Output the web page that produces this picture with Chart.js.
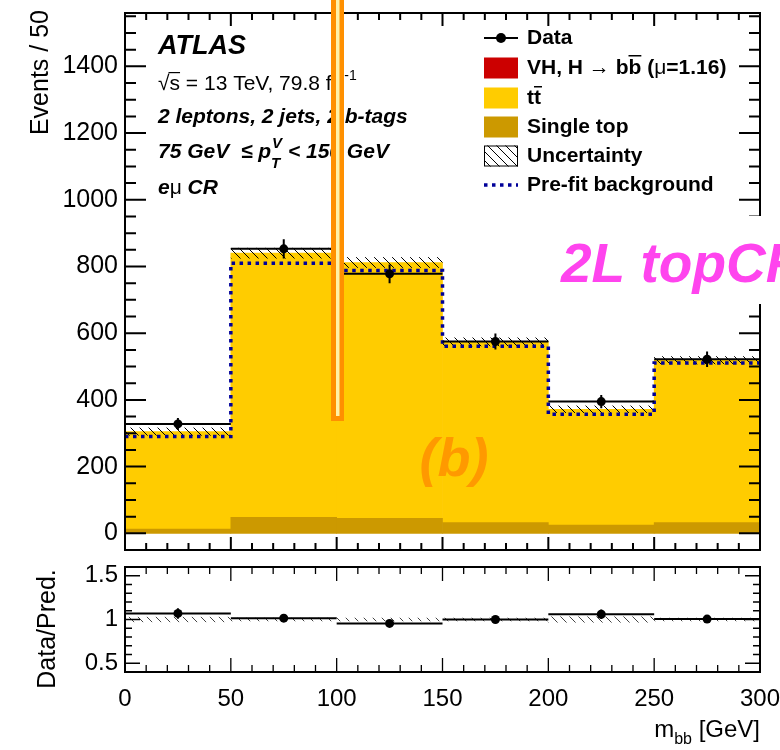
<!DOCTYPE html>
<html lang="en">
<head>
  <meta charset="UTF-8" />
  <title>m_bb - 2L topCR</title>
  <style>
    body { margin: 0; background: #fff; }
    #wrap { position: relative; width: 780px; height: 750px; }
    canvas { position: absolute; left: 0; }
    #mainChart { top: 0; }
    #ratioChart { top: 560px; }
  </style>
</head>
<body>
  <div id="wrap">
    <canvas id="mainChart" width="780" height="560"></canvas>
    <canvas id="ratioChart" width="780" height="190"></canvas>
  </div>

  <script src="https://cdn.jsdelivr.net/npm/chart.js@4"></script>
  <script>
    const FONT = '"Liberation Sans", Arial, Helvetica, sans-serif';

    // bins in m_bb [GeV]
    const binEdges = [0, 50, 100, 150, 200, 250, 300];
    const binCenters = [25, 75, 125, 175, 225, 275];

    // main panel (events / 50 GeV)
    const dataEvents = [328, 853, 778, 575, 395, 522];
    const dataErr = [18, 29, 28, 24, 20, 23];
    const singleTop = [13, 48, 45, 32, 25, 32];
    const ttbar = [292, 792, 767, 542, 347, 487];
    const bkgUnc = [12, 16, 16, 13, 11, 12];
    const preFit = [290, 810, 788, 561, 357, 511];

    // ratio panel
    const ratioData = [1.07, 1.015, 0.955, 1.0, 1.06, 1.005];
    const ratioErr = [0.06, 0.035, 0.035, 0.04, 0.055, 0.045];
    const ratioUnc = [0.03, 0.02, 0.02, 0.02, 0.035, 0.02];

    // axis ticks
    const xTicks = [0, 50, 100, 150, 200, 250, 300];
    const mainYTicks = [0, 200, 400, 600, 800, 1000, 1200, 1400];
    const ratioYTicks = [0.5, 1, 1.5];

    function f(style, size) { return style + ' ' + size + 'px ' + FONT; }

    function txt(ctx, s, x, y, font, color) {
      ctx.font = font;
      ctx.fillStyle = color || '#000';
      ctx.fillText(s, x, y);
      return x + ctx.measureText(s).width;
    }

    function hatch(ctx, color) {
      const c = document.createElement('canvas');
      c.width = c.height = 9;
      const g = c.getContext('2d');
      g.strokeStyle = color;
      g.lineWidth = 1;
      g.beginPath();
      g.moveTo(-1, -1); g.lineTo(10, 10);
      g.moveTo(-1, 8); g.lineTo(1, 10);
      g.moveTo(8, -1); g.lineTo(10, 1);
      g.stroke();
      return ctx.createPattern(c, 'repeat');
    }

    // ROOT style frame with inside ticks on all four sides
    function drawFrame(chart, t) {
      const { ctx, chartArea: a, scales: { x, y } } = chart;
      ctx.save();
      ctx.strokeStyle = '#000';
      ctx.lineWidth = t.tickWidth;
      ctx.beginPath();
      for (let k = 0; ; k++) {
        const v = t.yFrom + k * t.yMinor;
        if (v > t.yTo + 1e-9) break;
        const py = y.getPixelForValue(v);
        const major = t.yMajor.some(m => Math.abs(m - v) < 1e-6);
        const len = major ? t.yMajorLen : t.yMinorLen;
        ctx.moveTo(a.left, py); ctx.lineTo(a.left + len, py);
        ctx.moveTo(a.right, py); ctx.lineTo(a.right - len, py);
      }
      for (let k = 0; ; k++) {
        const v = 0 + k * t.xMinor;
        if (v > 300 + 1e-9) break;
        const px = x.getPixelForValue(v);
        const major = xTicks.includes(v);
        const len = major ? t.xMajorLen : t.xMinorLen;
        ctx.moveTo(px, a.bottom); ctx.lineTo(px, a.bottom - len);
        ctx.moveTo(px, a.top); ctx.lineTo(px, a.top + len);
      }
      ctx.stroke();
      ctx.lineWidth = t.frameWidth;
      ctx.strokeRect(a.left, a.top, a.right - a.left, a.bottom - a.top);
      ctx.restore();
    }

    const mainPlugin = {
      id: 'mainDecor',
      afterDatasetDraw(chart, args) {
        const { ctx, scales: { x, y } } = chart;
        if (args.index === 1) {
          // uncertainty band around the post-fit total
          ctx.save();
          ctx.fillStyle = hatch(ctx, '#000');
          binCenters.forEach((c, i) => {
            const tot = singleTop[i] + ttbar[i];
            const x0 = x.getPixelForValue(binEdges[i]);
            const x1 = x.getPixelForValue(binEdges[i + 1]);
            const y0 = y.getPixelForValue(tot + bkgUnc[i]);
            const y1 = y.getPixelForValue(tot - bkgUnc[i]);
            ctx.fillRect(x0, y0, x1 - x0, y1 - y0);
          });
          ctx.restore();
        }
        if (args.index === 2) {
          // data error bars
          ctx.save();
          ctx.strokeStyle = '#000';
          ctx.lineWidth = 2;
          ctx.beginPath();
          binCenters.forEach((c, i) => {
            const py = y.getPixelForValue(dataEvents[i]);
            ctx.moveTo(x.getPixelForValue(binEdges[i]), py);
            ctx.lineTo(x.getPixelForValue(binEdges[i + 1]), py);
            const px = x.getPixelForValue(c);
            ctx.moveTo(px, y.getPixelForValue(dataEvents[i] + dataErr[i]));
            ctx.lineTo(px, y.getPixelForValue(dataEvents[i] - dataErr[i]));
          });
          ctx.stroke();
          ctx.restore();
        }
      },
      afterDraw(chart) {
        const ctx = chart.ctx;
        drawFrame(chart, {
          yFrom: -50, yTo: 1560, yMinor: 50, yMajor: mainYTicks, yMajorLen: 21, yMinorLen: 11,
          xMinor: 10, xMajorLen: 13, xMinorLen: 7, tickWidth: 2, frameWidth: 2
        });

        ctx.save();
        ctx.textBaseline = 'middle';
        ctx.textAlign = 'left';

        // y title
        ctx.save();
        ctx.translate(41, 10);
        ctx.rotate(-Math.PI / 2);
        ctx.textAlign = 'right';
        txt(ctx, 'Events / 50', 0, 0, f('normal', 25));
        ctx.restore();

        // ATLAS block
        txt(ctx, 'ATLAS', 158, 47, f('italic bold', 27));
        let x = txt(ctx, '\u221A', 158, 84, f('normal', 21));
        const xs = x;
        x = txt(ctx, 's', x, 84, f('normal', 21));
        ctx.fillRect(xs - 1, 72, x - xs + 1, 1.2);
        x = txt(ctx, ' = 13 TeV, 79.8 fb', x, 84, f('normal', 21));
        txt(ctx, '-1', x + 1, 76, f('normal', 14));
        txt(ctx, '2 leptons, 2 jets, 2 b-tags', 158, 117, f('italic bold', 21));
        x = txt(ctx, '75 GeV  \u2264 p', 158, 152, f('italic bold', 21));
        txt(ctx, 'V', x + 1, 144, f('italic bold', 15));
        txt(ctx, 'T', x, 164, f('italic bold', 15));
        txt(ctx, ' < 150 GeV', x + 11, 152, f('italic bold', 21));
        x = txt(ctx, 'e', 158, 188, f('italic bold', 21));
        x = txt(ctx, '\u03BC', x, 188, f('normal', 21));
        txt(ctx, ' CR', x, 188, f('italic bold', 21));

        // legend
        const rows = [38, 68, 98, 127, 156, 185];
        const bx = 484, bw = 34, bh = 21, tx = 527, lf = f('bold', 21);
        ctx.strokeStyle = '#000';
        ctx.lineWidth = 2;
        ctx.beginPath(); ctx.moveTo(bx, rows[0]); ctx.lineTo(bx + bw, rows[0]); ctx.stroke();
        ctx.beginPath(); ctx.arc(bx + bw / 2, rows[0], 5, 0, Math.PI * 2); ctx.fillStyle = '#000'; ctx.fill();
        txt(ctx, 'Data', tx, rows[0], lf);

        ctx.fillStyle = '#cc0000'; ctx.fillRect(bx, rows[1] - bh / 2, bw, bh);
        x = txt(ctx, 'VH, H ', tx, rows[1], lf);
        x = txt(ctx, '\u2192', x, rows[1], f('normal', 21));
        x = txt(ctx, ' b', x, rows[1], lf);
        const xb = x;
        x = txt(ctx, 'b', x, rows[1], lf);
        ctx.fillRect(xb, rows[1] - 13, x - xb, 1.5);
        x = txt(ctx, ' (', x, rows[1], lf);
        x = txt(ctx, '\u03BC', x, rows[1], f('normal', 21));
        txt(ctx, '=1.16)', x, rows[1], lf);

        ctx.fillStyle = '#ffcc00'; ctx.fillRect(bx, rows[2] - bh / 2, bw, bh);
        x = txt(ctx, 't', tx, rows[2], lf);
        const xt = x;
        x = txt(ctx, 't', x, rows[2], lf);
        ctx.fillRect(xt, rows[2] - 12, x - xt + 1, 1.5);

        ctx.fillStyle = '#cc9900'; ctx.fillRect(bx, rows[3] - bh / 2, bw, bh);
        txt(ctx, 'Single top', tx, rows[3], lf);

        ctx.fillStyle = hatch(ctx, '#000'); ctx.fillRect(bx, rows[4] - bh / 2, bw, bh);
        ctx.lineWidth = 1; ctx.strokeRect(bx + 0.5, rows[4] - bh / 2 + 0.5, bw - 1, bh - 1);
        txt(ctx, 'Uncertainty', tx, rows[4], lf);

        ctx.save();
        ctx.strokeStyle = '#000099'; ctx.lineWidth = 3.5; ctx.setLineDash([3.5, 4.5]);
        ctx.beginPath(); ctx.moveTo(bx, rows[5]); ctx.lineTo(bx + bw, rows[5]); ctx.stroke();
        ctx.restore();
        txt(ctx, 'Pre-fit background', tx, rows[5], lf);

        // overlays
        ctx.textAlign = 'center';
        txt(ctx, '(b)', 454, 461, f('italic bold', 54), '#ff9900');
        ctx.fillStyle = '#fff';
        ctx.fillRect(555, 216, 225, 88);
        ctx.textAlign = 'left';
        ctx.textBaseline = 'alphabetic';
        txt(ctx, '2L topCR', 561, 282, f('italic bold', 55), '#ff44ee');

        ctx.fillStyle = '#ff9000';
        ctx.fillRect(331, 0, 13, 421);
        ctx.fillStyle = '#fff2a8';
        ctx.fillRect(336, 0, 3.5, 416);
        ctx.restore();
      }
    };

    new Chart(document.getElementById('mainChart'), {
      type: 'bar',
      data: {
        datasets: [
          {
            label: 'Single top', stack: 'bkg', order: 3,
            data: binCenters.map((c, i) => ({ x: c, y: singleTop[i] })),
            backgroundColor: '#cc9900', borderWidth: 0, barPercentage: 1, categoryPercentage: 1
          },
          {
            label: 'tt', stack: 'bkg', order: 3,
            data: binCenters.map((c, i) => ({ x: c, y: ttbar[i] })),
            backgroundColor: '#ffcc00', borderWidth: 0, barPercentage: 1, categoryPercentage: 1
          },
          {
            type: 'line', label: 'Pre-fit background', order: 1,
            data: binEdges.map((e, i) => ({ x: e, y: preFit[Math.min(i, preFit.length - 1)] })),
            stepped: true, fill: false, pointRadius: 0,
            borderColor: '#000099', borderWidth: 3.5, borderDash: [3.5, 4.5]
          },
          {
            type: 'line', label: 'Data', order: 0, showLine: false,
            data: binCenters.map((c, i) => ({ x: c, y: dataEvents[i] })),
            pointRadius: 4.5, pointBackgroundColor: '#000', pointBorderWidth: 0
          }
        ]
      },
      options: {
        responsive: false,
        animation: false,
        events: [],
        layout: { padding: { top: 13, right: 20, left: 0, bottom: 0 } },
        plugins: { legend: { display: false }, tooltip: { enabled: false } },
        scales: {
          x: {
            type: 'linear', min: 0, max: 300, offset: false,
            grid: { display: false, drawTicks: false, offset: false },
            border: { display: false },
            ticks: { display: false },
            afterBuildTicks: s => { s.ticks = xTicks.map(v => ({ value: v })); },
            afterFit: s => { s.height = 10; s.paddingLeft = 0; s.paddingRight = 0; }
          },
          y: {
            min: -50, max: 1560,
            grid: { display: false, drawTicks: false },
            border: { display: false },
            ticks: { color: '#000', font: { family: FONT, size: 25 }, padding: 7, autoSkip: false, callback: v => String(v) },
            afterBuildTicks: s => { s.ticks = mainYTicks.map(v => ({ value: v })); },
            afterFit: s => { s.width = 125; s.paddingTop = 0; s.paddingBottom = 0; }
          }
        }
      },
      plugins: [mainPlugin]
    });

    const ratioPlugin = {
      id: 'ratioDecor',
      beforeDatasetsDraw(chart) {
        const { ctx, scales: { x, y } } = chart;
        ctx.save();
        ctx.fillStyle = hatch(ctx, '#444');
        binCenters.forEach((c, i) => {
          const x0 = x.getPixelForValue(binEdges[i]);
          const x1 = x.getPixelForValue(binEdges[i + 1]);
          const y0 = y.getPixelForValue(1 + ratioUnc[i]);
          const y1 = y.getPixelForValue(1 - ratioUnc[i]);
          ctx.fillRect(x0, y0, x1 - x0, y1 - y0);
        });
        ctx.strokeStyle = '#000';
        ctx.lineWidth = 2;
        ctx.beginPath();
        binCenters.forEach((c, i) => {
          const py = y.getPixelForValue(ratioData[i]);
          ctx.moveTo(x.getPixelForValue(binEdges[i]), py);
          ctx.lineTo(x.getPixelForValue(binEdges[i + 1]), py);
          const px = x.getPixelForValue(c);
          ctx.moveTo(px, y.getPixelForValue(ratioData[i] + ratioErr[i]));
          ctx.lineTo(px, y.getPixelForValue(ratioData[i] - ratioErr[i]));
        });
        ctx.stroke();
        ctx.restore();
      },
      afterDraw(chart) {
        const ctx = chart.ctx;
        drawFrame(chart, {
          yFrom: 0.4, yTo: 1.6, yMinor: 0.1, yMajor: ratioYTicks, yMajorLen: 15, yMinorLen: 7,
          xMinor: 10, xMajorLen: 14, xMinorLen: 7, tickWidth: 1.3, frameWidth: 2
        });
        ctx.save();
        ctx.textBaseline = 'middle';
        ctx.save();
        ctx.translate(48, 69);
        ctx.rotate(-Math.PI / 2);
        ctx.textAlign = 'center';
        txt(ctx, 'Data/Pred.', 0, 0, f('normal', 25));
        ctx.restore();

        ctx.textBaseline = 'alphabetic';
        ctx.textAlign = 'left';
        ctx.font = f('normal', 24);
        const w3 = ctx.measureText(' [GeV]').width;
        const w1 = ctx.measureText('m').width;
        ctx.font = f('normal', 16);
        const w2 = ctx.measureText('bb').width;
        const x0 = 760 - w3 - w2 - w1;
        txt(ctx, 'm', x0, 177, f('normal', 24));
        txt(ctx, 'bb', x0 + w1, 184, f('normal', 16));
        txt(ctx, ' [GeV]', x0 + w1 + w2, 177, f('normal', 24));
        ctx.restore();
      }
    };

    new Chart(document.getElementById('ratioChart'), {
      type: 'line',
      data: {
        datasets: [
          {
            label: 'Data/Pred.', showLine: false,
            data: binCenters.map((c, i) => ({ x: c, y: ratioData[i] })),
            pointRadius: 4.5, pointBackgroundColor: '#000', pointBorderWidth: 0
          }
        ]
      },
      options: {
        responsive: false,
        animation: false,
        events: [],
        layout: { padding: { top: 7, right: 20, left: 0, bottom: 0 } },
        plugins: { legend: { display: false }, tooltip: { enabled: false } },
        scales: {
          x: {
            type: 'linear', min: 0, max: 300,
            grid: { display: false, drawTicks: false },
            border: { display: false },
            ticks: { color: '#000', font: { family: FONT, size: 24 }, padding: 13, autoSkip: false, maxRotation: 0, callback: v => String(v) },
            afterBuildTicks: s => { s.ticks = xTicks.map(v => ({ value: v })); },
            afterFit: s => { s.height = 78; s.paddingLeft = 0; s.paddingRight = 0; }
          },
          y: {
            min: 0.4, max: 1.6,
            grid: { display: false, drawTicks: false },
            border: { display: false },
            ticks: { color: '#000', font: { family: FONT, size: 24 }, padding: 7, autoSkip: false, callback: v => String(v) },
            afterBuildTicks: s => { s.ticks = ratioYTicks.map(v => ({ value: v })); },
            afterFit: s => { s.width = 125; s.paddingTop = 0; s.paddingBottom = 0; }
          }
        }
      },
      plugins: [ratioPlugin]
    });
  </script>
</body>
</html>
